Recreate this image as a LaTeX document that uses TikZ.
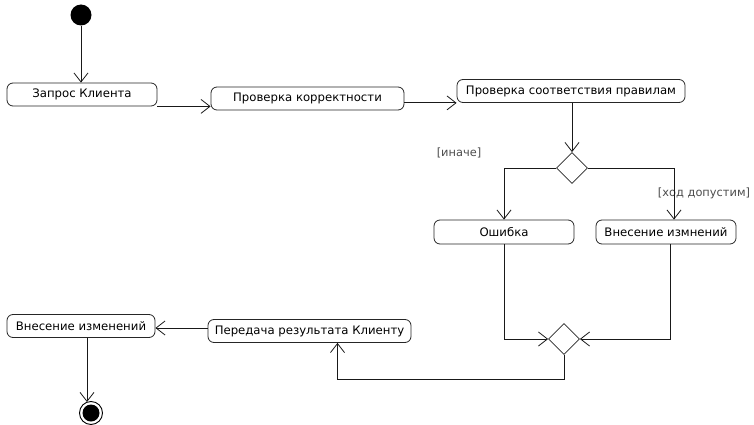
\documentclass[tikz,border=0pt]{standalone}
\usepackage{fontspec}
\setmainfont{DejaVu Sans}
\usetikzlibrary{shapes.geometric,arrows.meta,calc}
\begin{document}
\begin{tikzpicture}[x=1pt,y=-1pt,
  act/.style={draw=black!85,line width=0.8pt,rounded corners=6pt,inner sep=0pt,minimum height=23pt,font=\fontsize{11.7}{13}\selectfont,text=black},
  dec/.style={draw=black!85,line width=0.8pt,diamond,aspect=1,inner sep=0pt,minimum width=31pt,minimum height=31pt},
  flow/.style={draw=black!90,line width=0.8pt,-{Straight Barb[length=9pt,width=14pt,line width=0.8pt]}},
  guard/.style={font=\fontsize{11.4}{13}\selectfont,text=black!70}]
\useasboundingbox (0,0) rectangle (754,425);
\node[circle,fill=black,inner sep=0pt,minimum size=21pt] (start) at (81,15) {};
\node[act,minimum width=150pt] (n1) at (82,94.5) {Запрос Клиента};
\node[act,minimum width=193pt] (n2) at (307.5,98.5) {Проверка корректности};
\node[act,minimum width=228pt] (n3) at (571,91) {Проверка соответствия правилам};
\node[dec] (d1) at (572,168) {};
\node[act,minimum width=140pt,minimum height=24pt] (n4) at (504,232) {Ошибка};
\node[act,minimum width=140pt,minimum height=24pt] (n5) at (666,232) {Внесение измнений};
\node[dec] (d2) at (564,339) {};
\node[act,minimum width=203pt] (n6) at (309.5,331) {Передача результата Клиенту};
\node[act,minimum width=148pt] (n7) at (81,326) {Внесение изменений};
\node[circle,draw=black,line width=0.9pt,inner sep=0pt,minimum size=23pt] (end) at (91,413) {};
\node[circle,fill=black,inner sep=0pt,minimum size=17pt] (endin) at (91,413) {};
\node[guard] (g1) at (459,153) {[иначе]};
\node[guard] (g2) at (704,193) {[ход допустим]};
\coordinate (c1) at ($(n5.north)+(8,0)$);
\coordinate (c2) at ($(n5.south)+(4,0)$);
\coordinate (c3) at ($(n6.south)+(28,0)$);
\coordinate (c4) at ($(n7.south)+(6,0)$);
\draw[flow] (start.south) -- (start.south |- n1.north);
\draw[flow] (n1.south east) -- (n1.south east -| n2.west);
\draw[flow] (n2.east |- n3.south) -- (n3.south west);
\draw[flow] (d1.north |- n3.south) -- (d1.north);
\draw[flow] (d1.west) -| (n4.north);
\draw[flow] (d1.east) -| (c1);
\draw[flow] (n4.south) |- (d2.west);
\draw[flow] (c2) |- (d2.east);
\draw[flow] (d2.south) -- ++(0,24) -| (c3);
\draw[flow] (n6.west |- 0,328) -- (n7.east |- 0,328);
\draw[flow] (c4) -- (c4 |- 0,402);
\end{tikzpicture}
\end{document}
